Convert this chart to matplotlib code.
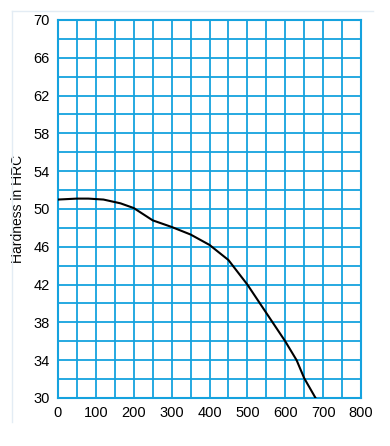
import matplotlib.pyplot as plt
import numpy as np
from matplotlib.lines import Line2D

temperatur = [0, 50, 80, 120, 165, 200, 250, 300, 350, 400, 450, 500, 550, 600, 630, 650, 680]
hrc = [51.0, 51.1, 51.1, 51.0, 50.6, 50.1, 48.8, 48.1, 47.3, 46.2, 44.6, 42.0, 39.0, 36.0, 34.0, 32.1, 30.0]

x_ticks = list(range(0, 801, 100))
y_ticks = list(range(30, 71, 4))

plt.rcParams['font.family'] = ['Liberation Sans', 'DejaVu Sans']
plava = '#15a2de'

fig = plt.figure(figsize=(3.9, 4.46), dpi=100)
ax = fig.add_axes([58/390, 1-398/446, (361-58)/390, (398-20)/446])

ax.set_xlim(0, 800)
ax.set_ylim(30, 70)
ax.set_xticks(x_ticks)
ax.set_xticks(np.arange(50, 800, 100), minor=True)
ax.set_yticks(y_ticks)
ax.set_yticks(np.arange(32, 70, 4), minor=True)
ax.grid(True, which='both', color=plava, linewidth=1.3)
ax.tick_params(which='both', length=0, labelsize=10.5, pad=6)
for s in ax.spines.values():
    s.set_color(plava)
    s.set_linewidth(1.5)

ax.plot(temperatur, hrc, color='black', linewidth=1.5, zorder=5)
ax.set_ylabel('Hardness in HRC', fontsize=10, labelpad=6)

fig.add_artist(Line2D([12/390, 12/390], [1-422/446, 1-11/446], color='#e3ecf4', linewidth=1))
fig.add_artist(Line2D([12/390, 373/390], [1-11/446, 1-11/446], color='#e3ecf4', linewidth=1))

plt.savefig('out.png', dpi=100)
